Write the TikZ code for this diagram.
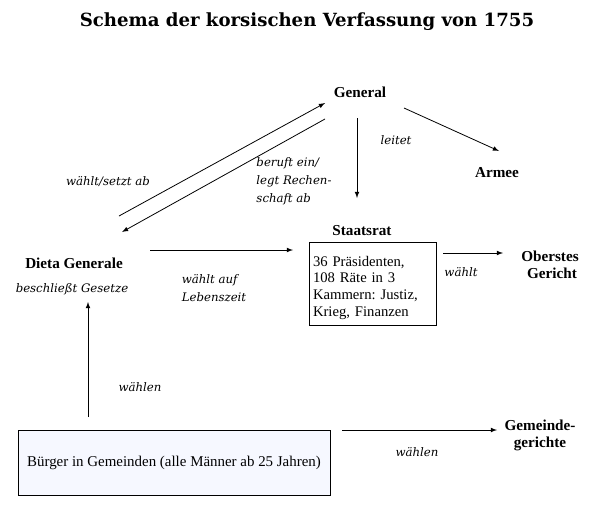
\documentclass[tikz,border=0pt]{standalone}
\usepackage{fontspec}
\setmainfont{Liberation Serif}
\newfontfamily\titlefont{DejaVu Serif}
\newfontfamily\verbfont{DejaVu Serif}
\usepackage{tikz}
\usetikzlibrary{arrows,positioning}
\definecolor{buergerfill}{RGB}{246,248,255}
\frenchspacing

\tikzset{
  organ/.style={font=\fontsize{11.4}{12.8}\selectfont\bfseries, align=center},
  taetig/.style={font=\verbfont\itshape\fontsize{8.8}{13.5}\selectfont, align=center},
  pfeil/.style={-latex, line width=0.6pt},
}

\begin{document}
\begin{tikzpicture}[x=0.75pt,y=-0.75pt]
            \useasboundingbox (0,0) rectangle (599,511);
            \node[font=\titlefont\bfseries\fontsize{13.6}{15}\selectfont] (titel) at (307,22) {Schema der korsischen Verfassung von 1755};
            % Organe
            \node[organ] (general) at (360,92) {General};
            \node[organ] (armee) at (497,173) {Armee};
            \node[organ] (staatsrat) at (362,231) {Staatsrat};
            \node[draw, align=left, inner xsep=2.5pt, text width=90pt, minimum height=62pt,
                  font=\fontsize{11}{12.6}\selectfont] (kammern) at (373,283.5)
                  {\rule{0pt}{14pt}36 Präsidenten,\\108 Räte in 3\\Kammern: Justiz,\\Krieg, Finanzen};
            \node[organ] (gericht) at (550,265) {Oberstes\\ \ Gericht};
            \node[organ] (dieta) at (74,263) {Dieta Generale};
            \node[taetig] (gesetze) at (72,289) {beschließt Gesetze};
            \node[draw, fill=buergerfill, minimum width=234pt, minimum height=48.75pt,
                  font=\fontsize{11.2}{12.5}\selectfont] (buerger) at (174,462.5)
                  {Bürger in Gemeinden (alle Männer ab 25 Jahren)};
            \node[organ] (gemeinde) at (540,435) {Gemeinde-\\gerichte};
            % Pfeilenden
            \coordinate (d1) at (119,216);  \coordinate (g1) at (325,103);
            \coordinate (g2) at (325,119);  \coordinate (d2) at (122,232);
            \coordinate (g3) at (357,118);  \coordinate (s1) at (357,198);
            \coordinate (g4) at (404,108);  \coordinate (a1) at (499,151);
            \coordinate (d3) at (150,250);  \coordinate (s2) at (293,250);
            \coordinate (k1) at (443,253);  \coordinate (o1) at (503,253);
            \coordinate (b1) at (88,417);   \coordinate (d4) at (88,302);
            \coordinate (b2) at (342,430);  \coordinate (m1) at (497,430);
            \draw[pfeil] (d1) -- (g1);
            \draw[pfeil] (g2) -- (d2);
            \draw[pfeil] (g3) -- (s1);
            \draw[pfeil] (g4) -- (a1);
            \draw[pfeil] (d3) -- (s2);
            \draw[pfeil] (k1) -- (o1);
            \draw[pfeil] (b1) -- (d4);
            \draw[pfeil] (b2) -- (m1);
            % Beschriftungen
            \node[taetig] (setzt) at (108,182) {wählt/setzt ab};
            \node[taetig, align=left] (beruft) at (294,181) {beruft ein/\\legt Rechen-\\schaft ab};
            \node[taetig] (leitet) at (396,140) {leitet};
            \node[taetig, align=left] (leben) at (214,288) {wählt auf\\Lebenszeit};
            \node[taetig] (waehlt) at (461,272) {wählt};
            \node[taetig] (waehlen1) at (140,387) {wählen};
            \node[taetig] (waehlen2) at (417,452) {wählen};
          \end{tikzpicture}
\end{document}
